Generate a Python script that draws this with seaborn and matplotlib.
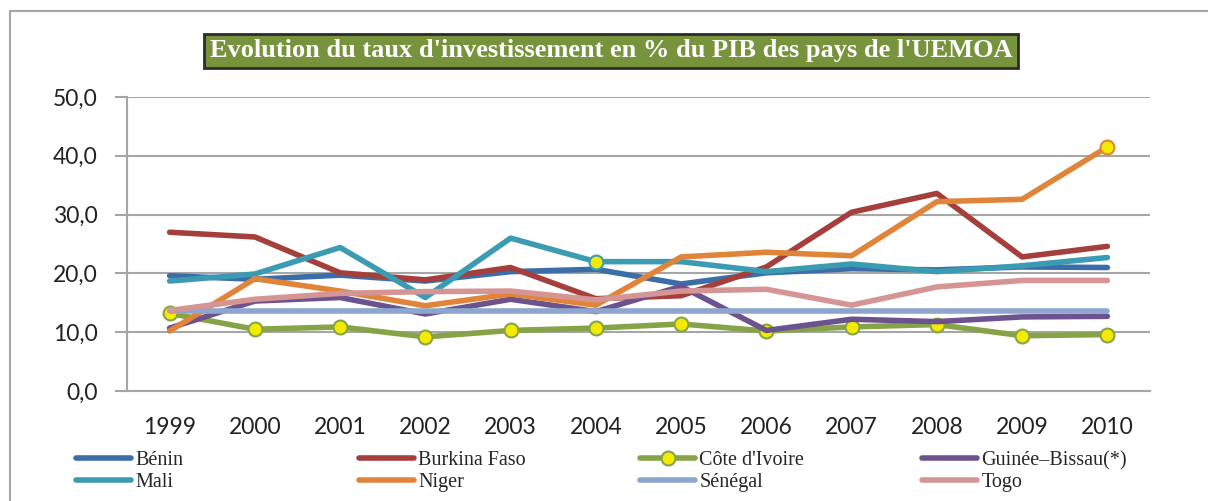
import matplotlib
matplotlib.use("agg")
import matplotlib.pyplot as plt
from matplotlib.lines import Line2D
from matplotlib.patches import Rectangle
from matplotlib.ticker import FuncFormatter, MultipleLocator
import seaborn as sns

years = [1999, 2000, 2001, 2002, 2003, 2004, 2005, 2006, 2007, 2008, 2009, 2010]

benin = [19.6, 19.0, 19.7, 18.7, 20.3, 20.7, 18.2, 20.1, 20.8, 20.6, 21.1, 21.0]
burkina = [27.0, 26.2, 20.1, 18.9, 21.0, 15.7, 16.2, 21.1, 30.4, 33.6, 22.8, 24.6]
cote_ivoire = [13.2, 10.5, 10.9, 9.2, 10.3, 10.7, 11.4, 10.2, 10.9, 11.3, 9.4, 9.6]
guinee_bissau = [10.7, 15.3, 15.9, 13.1, 15.6, 13.5, 17.8, 10.3, 12.2, 11.8, 12.6, 12.7]
mali = [18.7, 19.9, 24.4, 15.9, 26.0, 22.0, 22.0, 20.3, 21.6, 20.3, 21.3, 22.7]
niger = [10.2, 19.1, 17.0, 14.5, 16.5, 14.6, 22.8, 23.6, 23.0, 32.2, 32.6, 41.5]
senegal = [13.6, 13.6, 13.6, 13.6, 13.6, 13.6, 13.6, 13.6, 13.6, 13.6, 13.6, 13.6]
togo = [13.7, 15.6, 16.6, 16.9, 17.0, 15.5, 17.0, 17.3, 14.6, 17.7, 18.8, 18.8]

names = ["Bénin", "Burkina Faso", "Côte d'Ivoire", "Guinée–Bissau(*)",
         "Mali", "Niger", "Sénégal", "Togo"]
series = [benin, burkina, cote_ivoire, guinee_bissau, mali, niger, senegal, togo]
colors = ["#3B6EA8", "#A53F3C", "#86A447", "#6C528E",
          "#3A9BB3", "#E0843A", "#8EA6CE", "#D69595"]
# points marked with a yellow dot (index into years)
marked = [None, None, list(range(12)), None, [5], [11], None, None]

sns.set_style("white")
plt.rcParams["font.family"] = ["Lato", "DejaVu Sans"]

fig = plt.figure(figsize=(12.08, 5.01), dpi=100)
ax = fig.add_axes([127 / 1208, 1 - 391 / 501, 1023 / 1208, 294 / 501])

grid_col = "#A6A6A6"
for name, vals, col, mk in zip(names, series, colors, marked):
    kw = {}
    if mk is not None:
        kw = dict(marker="o", markevery=mk, markersize=10,
                  markerfacecolor="#F5EB00", markeredgecolor=col, markeredgewidth=1.5)
    sns.lineplot(x=years, y=vals, ax=ax, color=col, lw=4, legend=False, **kw)

ax.set_xlim(1998.5, 2010.5)
ax.set_ylim(0, 50)
ax.yaxis.set_major_locator(MultipleLocator(10))
ax.yaxis.set_major_formatter(FuncFormatter(lambda v, p: f"{v:.1f}".replace(".", ",")))
ax.set_xticks(years)
ax.set_xticklabels([str(y) for y in years])
ax.set_xticks([y - 0.5 for y in years] + [2010.5], minor=True)
ax.tick_params(axis="x", which="major", length=0, pad=19, labelsize=16.5, colors="#222222")
ax.tick_params(axis="x", which="minor", length=8, width=1.5, color=grid_col, direction="out")
ax.tick_params(axis="y", which="major", length=9, width=1.5, color=grid_col,
               pad=12, labelsize=16.5, labelcolor="#222222", left=True)
ax.grid(axis="y", color=grid_col, lw=1.5)
ax.set_axisbelow(True)
for s in ["top", "right"]:
    ax.spines[s].set_visible(False)
for s in ["left", "bottom"]:
    ax.spines[s].set_color(grid_col)
    ax.spines[s].set_linewidth(1.5)
ax.set_xlabel("")
ax.set_ylabel("")

# title box
fig.text(611 / 1208, 1 - 51 / 501,
         "Evolution du taux d'investissement en % du PIB des pays de l'UEMOA",
         ha="center", va="center", color="white", fontsize=19, fontweight="bold",
         family="Liberation Serif",
         bbox=dict(boxstyle="square,pad=0.22", facecolor="#77933C",
                   edgecolor="#2B2B2B", linewidth=2))

# outer frame
fig.patches.append(Rectangle((10 / 1208, -0.05), 1.1, 1 - 11 / 501 + 0.05,
                             transform=fig.transFigure, fill=False,
                             edgecolor="#A6A6A6", lw=1.5))

# legend: 4 columns, row-major order
col_x = [76, 359, 640, 922]
for c in range(4):
    hs = []
    for r in range(2):
        i = r * 4 + c
        if marked[i] is not None and len(marked[i]) == 12:
            h = Line2D([], [], color=colors[i], lw=4, marker="o", markersize=10,
                       markerfacecolor="#F5EB00", markeredgecolor=colors[i],
                       markeredgewidth=1.5)
        else:
            h = Line2D([], [], color=colors[i], lw=4)
        hs.append((h, names[i]))
    fig.legend([h for h, _ in hs], [n for _, n in hs],
               loc="upper left", bbox_to_anchor=(col_x[c] / 1208, 1 - 451 / 501),
               frameon=False, ncol=1, handlelength=2.75, handletextpad=0.2,
               labelspacing=0.15, borderpad=0, borderaxespad=0,
               prop={"family": "Liberation Serif", "size": 14.5})

fig.savefig("out.png", dpi=100)
